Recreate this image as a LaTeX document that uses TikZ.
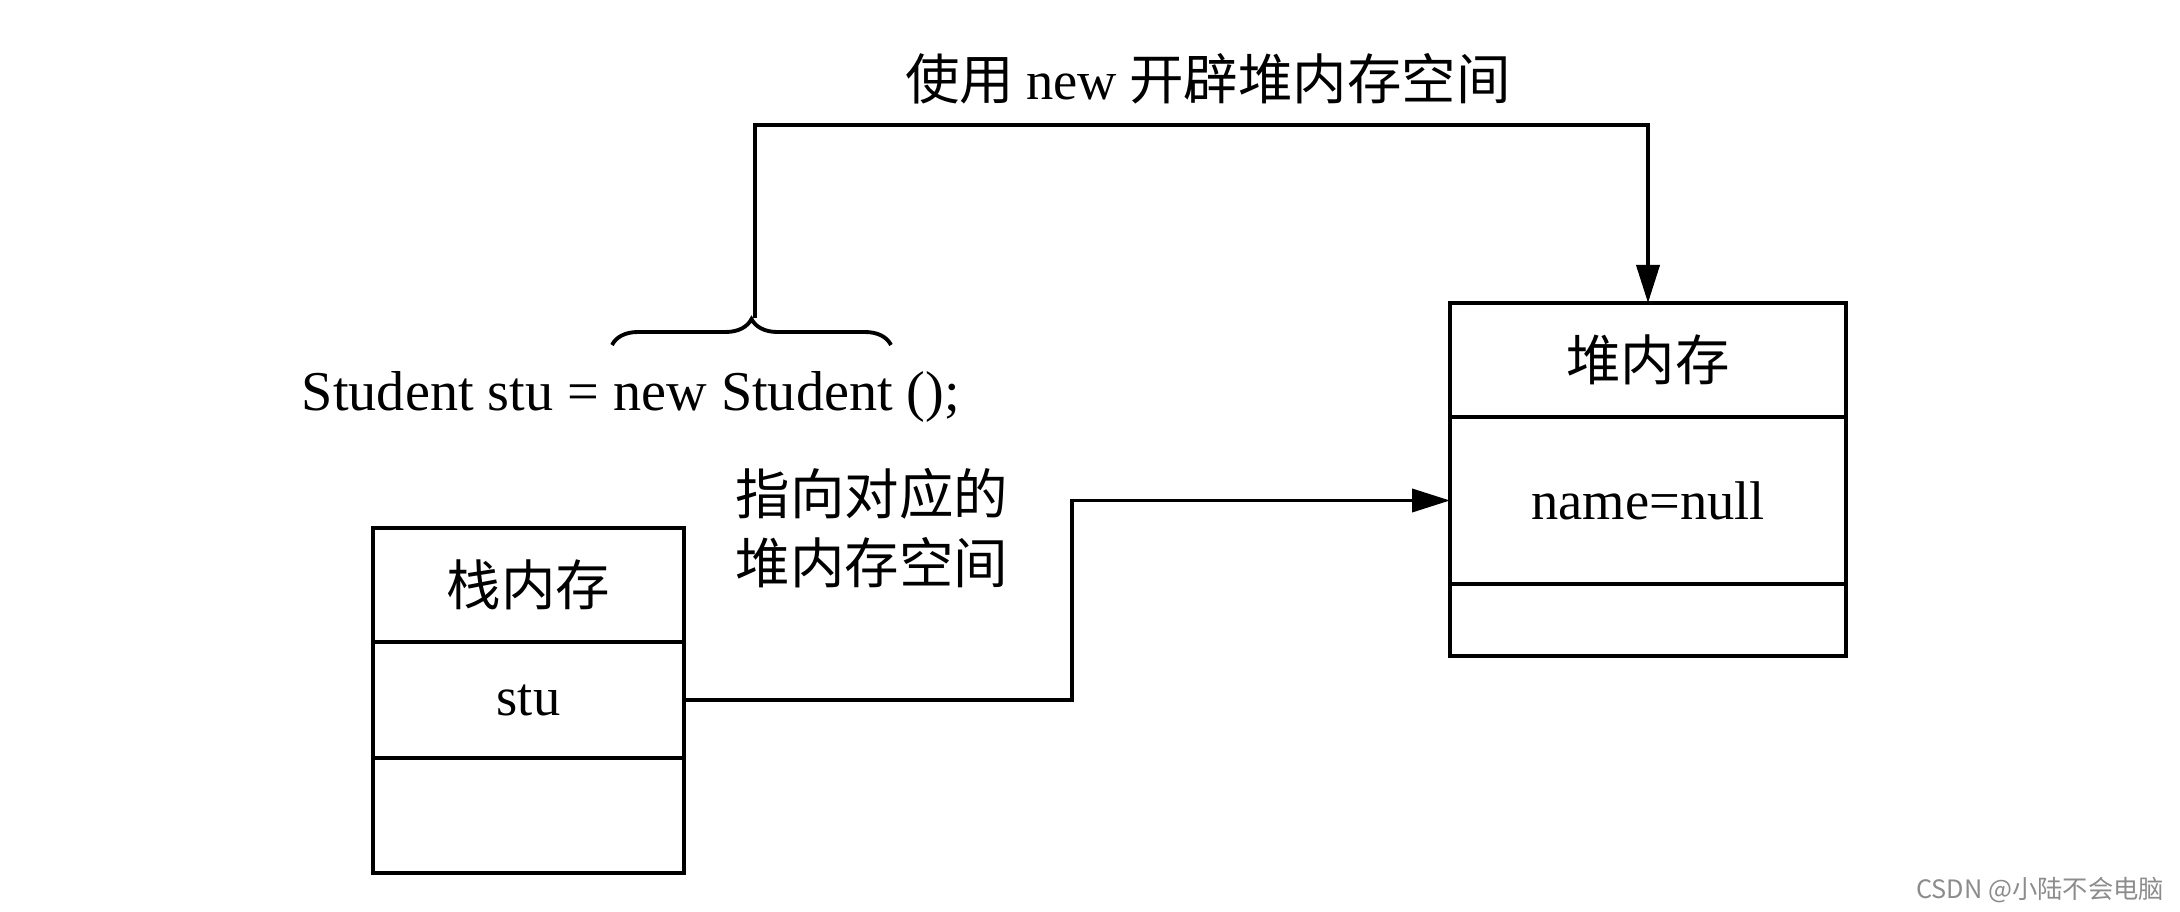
\documentclass[tikz,border=0pt]{standalone}
\usepackage{fontspec}
\setmainfont{Liberation Serif}
\newfontfamily\cjk{Noto Sans CJK SC}
\newfontfamily\wmfont{Noto Sans CJK SC}
\usetikzlibrary{arrows.meta,positioning,decorations.pathreplacing}

\begin{document}
\begin{tikzpicture}[x=0.1mm,y=-0.1mm,->,>={Triangle[length=3.8mm,width=2.3mm]},line width=1.1pt,node distance=0pt,
  font=\fontsize{15.5}{19.6}\selectfont]
\tikzstyle{cell}=[draw=black,rectangle,inner sep=0pt,outer sep=0pt]
\tikzstyle{stackcell}=[cell,minimum width=31.1mm]
\tikzstyle{heapcell}=[cell,minimum width=39.6mm]
\useasboundingbox (0,0) rectangle (2180,912);
% stack memory
\node[stackcell,anchor=north west,minimum height=11.4mm] (stackhead) at (373,528) {\cjk 栈内存};
\node[stackcell,below=of stackhead,minimum height=11.6mm] (stu) {stu};
\node[stackcell,below=of stu,minimum height=11.5mm] (stackfree) {};
% heap memory
\node[heapcell,anchor=north west,minimum height=11.4mm] (heaphead) at (1450,303) {\cjk 堆内存};
\node[heapcell,below=of heaphead,minimum height=16.7mm] (heapbody) {name=null};
\node[heapcell,below=of heapbody,minimum height=7.2mm] (heapfree) {};
% texts
\node[font=\fontsize{16}{19.6}\selectfont] (code) at (631,397) {Student stu = new Student ();};
\node (newlabel) at (1208,79) {\cjk 使用 {\rmfamily new} 开辟堆内存空间};
\node[anchor=west,align=left,inner sep=0pt] (pointlabel) at (734,528) {\cjk 指向对应的\\\cjk 堆内存空间};
\node[anchor=east,inner sep=0pt,text=black!45,font=\wmfont\fontsize{7.2}{9}\selectfont] (mark) at (2166,890) {CSDN @小陆不会电脑};
% brace and connectors
\coordinate (braceleft) at (612,345);
\coordinate (braceright) at (891,345);
\coordinate (bracetip) at (755,318);
\coordinate (top) at (755,125);
\coordinate (elbow) at (1072,600);
\draw[-,decorate,decoration={brace,amplitude=2.6mm,aspect=0.5}] (braceleft) -- (braceright);
\draw[->] (bracetip) -- (top) -| (heaphead.north);
\draw[->] (stu.east) -| (elbow) |- (heapbody.west);
\end{tikzpicture}
\end{document}
